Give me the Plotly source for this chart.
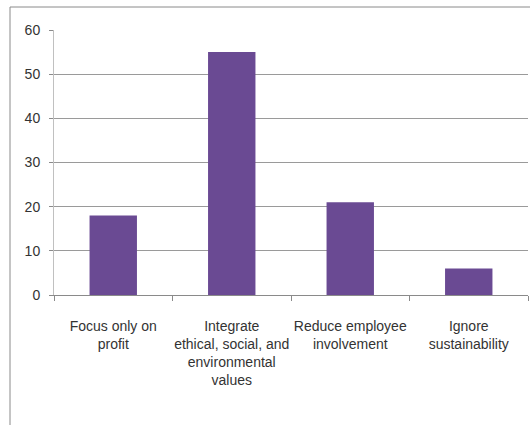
import plotly.graph_objects as go

categories = [
    "Focus only on<br>profit",
    "Integrate<br>ethical, social, and<br>environmental<br>values",
    "Reduce employee<br>involvement",
    "Ignore<br>sustainability",
]
values = [18, 55, 21, 6]
y_ticks = [0, 10, 20, 30, 40, 50, 60]

fig = go.Figure()
fig.add_trace(go.Bar(
    x=categories, y=values,
    marker=dict(color="#6a4a93", line=dict(width=0)),
    width=0.4,
))

W, H = 531, 425
L, R, T, B = 54, 3, 30, 130
pw, ph = W - L - R, H - T - B

def px2paper_x(px):
    return (px - L) / pw

def px2paper_y(py):
    return (H - B - py) / ph

fig.update_layout(
    width=W, height=H,
    margin=dict(l=L, r=R, t=T, b=B),
    paper_bgcolor="white", plot_bgcolor="white",
    showlegend=False,
    font=dict(family="Liberation Sans, Arial, sans-serif", color="#333333"),
    bargap=0.6,
    xaxis=dict(
        type="category",
        showline=True, linecolor="#8a8a8a", linewidth=1,
        ticks="outside", tickson="boundaries", ticklen=5, tickcolor="#8a8a8a",
        showgrid=False,
        tickangle=0,
        tickfont=dict(size=14, color="#333333"),
        ticklabelstandoff=18,
        fixedrange=True,
    ),
    yaxis=dict(
        range=[0, 60], tickvals=y_ticks,
        showline=True, linecolor="#c0c0c0", linewidth=1,
        ticks="outside", ticklen=4, tickcolor="#8a8a8a",
        showgrid=True, gridcolor="#9a9a9a", gridwidth=1,
        zeroline=False,
        tickfont=dict(size=14, color="#333333"),
        ticklabelstandoff=6,
    ),
    shapes=[
        dict(type="line", xref="paper", yref="paper",
             x0=px2paper_x(10), x1=px2paper_x(530), y0=px2paper_y(7), y1=px2paper_y(7),
             line=dict(color="#8a8a8a", width=1)),
        dict(type="line", xref="paper", yref="paper",
             x0=px2paper_x(10), x1=px2paper_x(10), y0=px2paper_y(7), y1=px2paper_y(425),
             line=dict(color="#8a8a8a", width=1)),
    ],
)

fig.write_html("out.html")
